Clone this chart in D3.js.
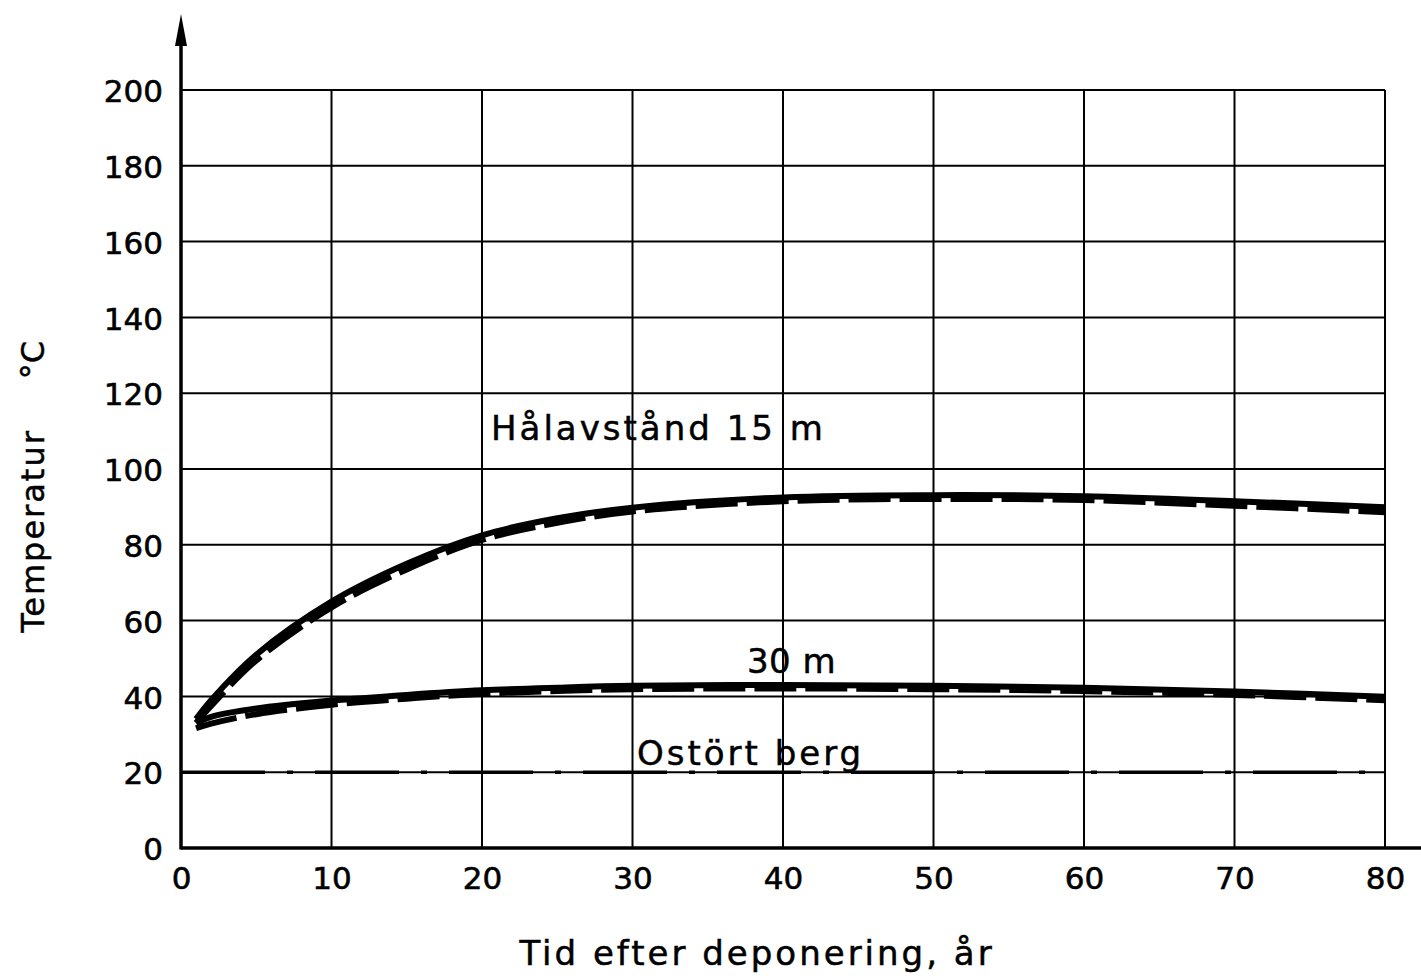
<!DOCTYPE html>
<html>
<head>
<meta charset="utf-8">
<script src="https://cdn.jsdelivr.net/npm/d3@7"></script>
<style>
  html, body { margin: 0; padding: 0; background: #fff; }
  svg { display: block; }
  text { font-family: "DejaVu Sans", "Liberation Sans", sans-serif; fill: #000; }
</style>
</head>
<body>
<svg id="chart" width="1421" height="979"></svg>
<script>
// Time after deposition (years) and rock temperature (°C)
const xTicks = [0, 10, 20, 30, 40, 50, 60, 70, 80];
const yTicks = [0, 20, 40, 60, 80, 100, 120, 140, 160, 180, 200];

const years = [1, 2, 5, 10, 15, 20, 25, 30, 40, 50, 60, 70, 80];
const temp15Solid  = [34, 39, 51, 65, 75, 82.5, 87, 89.8, 92.5, 93.1, 92.8, 91.5, 89.9];
const temp15Dashed = [33, 37.5, 49.5, 63.5, 73.5, 81.3, 85.8, 88.8, 91.5, 92.1, 91.8, 90.3, 88.6];
const temp30Solid  = [33, 34.6, 36.8, 38.9, 40.4, 41.6, 42.3, 42.8, 43.0, 42.8, 42.3, 41.3, 39.9];
const temp30Dashed = [31.6, 32.8, 35.3, 37.8, 39.4, 40.7, 41.4, 41.9, 42.1, 41.9, 41.4, 40.4, 39.0];
const undisturbed = [[0, 20], [80, 20]];

const labels = [
  { text: "Hålavstånd 15 m", x: 20.6, y: 107.6, spacing: 3 },
  { text: "30 m", x: 37.6, y: 46.2, spacing: 0.5 },
  { text: "Ostört berg", x: 30.3, y: 21.9, spacing: 3 }
];

const svg = d3.select("#chart");
const x = d3.scaleLinear().domain([0, 80]).range([181, 1385]);
const y = d3.scaleLinear().domain([0, 200]).range([848, 90]);

// grid
const grid = svg.append("g").attr("stroke", "#000").attr("stroke-width", 2);
grid.selectAll("line.v").data(xTicks.filter(d => d > 0)).join("line")
  .attr("x1", d => x(d)).attr("x2", d => x(d))
  .attr("y1", y(0)).attr("y2", y(200));
grid.selectAll("line.h").data(yTicks.filter(d => d > 0)).join("line")
  .attr("x1", x(0)).attr("x2", x(80))
  .attr("y1", d => y(d)).attr("y2", d => y(d));

// axes
const xAxis = d3.axisBottom(x).tickValues(xTicks).tickSize(0).tickPadding(19);
const yAxis = d3.axisLeft(y).tickValues(yTicks).tickSize(0).tickPadding(18);

const gx = svg.append("g").attr("transform", `translate(0,${y(0)})`).call(xAxis);
gx.select(".domain").remove();
gx.selectAll("text").attr("font-size", 31).attr("dy", "0.72em")
  .attr("stroke", "#000").attr("stroke-width", 0.6);

const gy = svg.append("g").attr("transform", `translate(${x(0)},0)`).call(yAxis);
gy.select(".domain").remove();
gy.selectAll("text").attr("font-size", 31).attr("dy", "0.38em")
  .attr("stroke", "#000").attr("stroke-width", 0.6);

// axis lines with arrows
svg.append("line").attr("x1", x(0)).attr("x2", 1421)
  .attr("y1", y(0)).attr("y2", y(0)).attr("stroke", "#000").attr("stroke-width", 3.5);
svg.append("line").attr("x1", x(0)).attr("x2", x(0))
  .attr("y1", y(0) + 1.5).attr("y2", 40).attr("stroke", "#000").attr("stroke-width", 3.5);
svg.append("path")
  .attr("d", `M${x(0)},14 L${x(0) - 6},46 L${x(0) + 6},46 Z`)
  .attr("fill", "#000");

// curves
const line = d3.line().x(d => x(d[0])).y(d => y(d[1])).curve(d3.curveCatmullRom.alpha(0.5));
const series = [
  { values: temp15Solid, dash: null },
  { values: temp15Dashed, dash: "42,9" },
  { values: temp30Solid, dash: null },
  { values: temp30Dashed, dash: "42,9" }
];
svg.append("g").selectAll("path").data(series).join("path")
  .attr("d", s => line(years.map((t, i) => [t, s.values[i]])))
  .attr("fill", "none")
  .attr("stroke", "#000")
  .attr("stroke-width", 6)
  .attr("stroke-linecap", "butt")
  .attr("stroke-dasharray", s => s.dash);

// undisturbed rock temperature (dash-dot)
svg.append("path")
  .attr("d", d3.line().x(d => x(d[0])).y(d => y(d[1]))(undisturbed))
  .attr("fill", "none").attr("stroke", "#000").attr("stroke-width", 3.5)
  .attr("stroke-dasharray", "84,22,6,22");

// curve labels
svg.append("g").selectAll("text").data(labels).join("text")
  .attr("x", d => x(d.x)).attr("y", d => y(d.y))
  .attr("font-size", 34)
  .attr("letter-spacing", d => d.spacing)
  .attr("stroke", "#000").attr("stroke-width", 0.5)
  .text(d => d.text);

// axis titles
svg.append("text")
  .attr("x", 757).attr("y", 965)
  .attr("text-anchor", "middle")
  .attr("font-size", 34)
  .attr("letter-spacing", 3)
  .attr("stroke", "#000").attr("stroke-width", 0.5)
  .text("Tid  efter  deponering,  år");

svg.append("text")
  .attr("transform", "translate(44,531) rotate(-90)")
  .attr("text-anchor", "middle")
  .attr("font-size", 32)
  .attr("letter-spacing", 2)
  .attr("stroke", "#000").attr("stroke-width", 0.5)
  .text("Temperatur");

svg.append("text")
  .attr("transform", "translate(44,360) rotate(-90)")
  .attr("text-anchor", "middle")
  .attr("font-size", 32)
  .attr("stroke", "#000").attr("stroke-width", 0.5)
  .text("°C");
</script>
</body>
</html>
